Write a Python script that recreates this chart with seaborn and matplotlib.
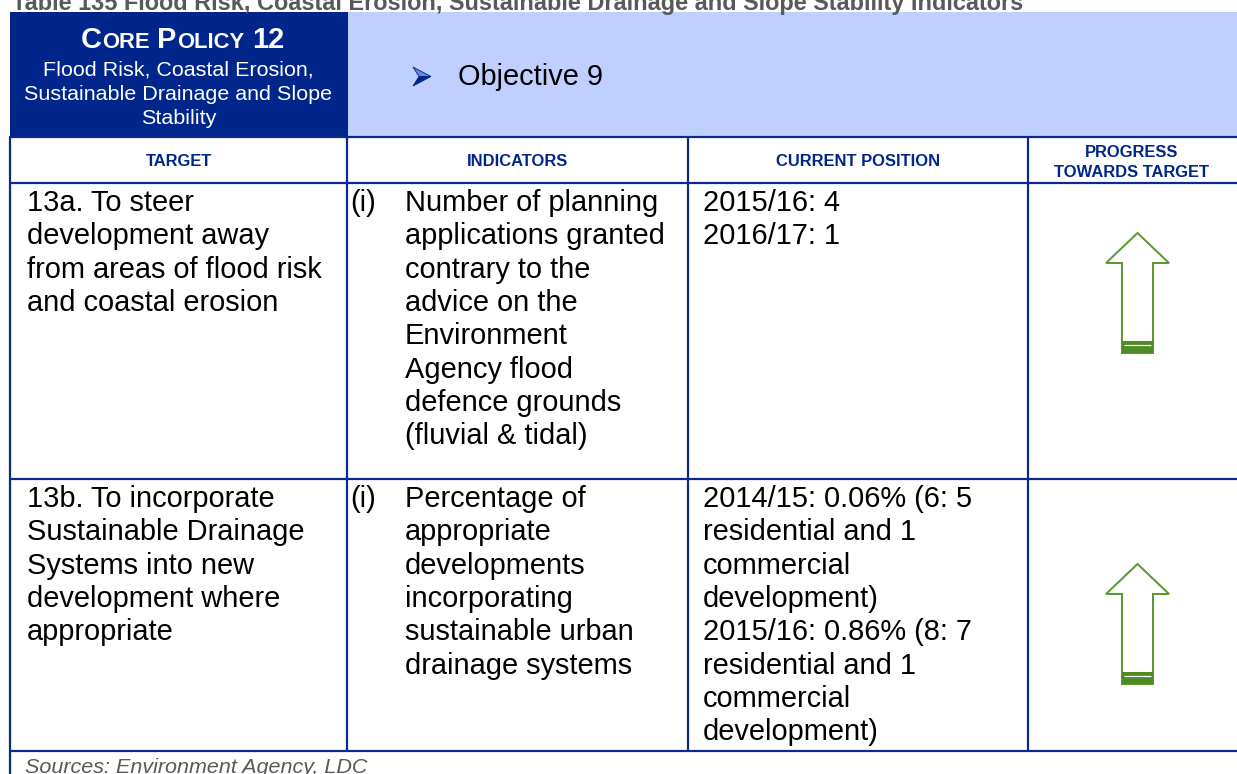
"""
plot.py
Core Policy 12 indicator table (flood risk / drainage), redrawn with matplotlib + seaborn.
"""

import matplotlib
matplotlib.use("Agg")
import matplotlib.pyplot as plt
from matplotlib.patches import Polygon, Rectangle
import seaborn as sns

# ══════════════════════════════════════════
# DATA
# ══════════════════════════════════════════
TITLE = "Table 135 Flood Risk, Coastal Erosion, Sustainable Drainage and Slope Stability Indicators"
POLICY_PARTS = [("C", True), ("ORE", False), ("P", True), ("OLICY", False), ("12", True)]
POLICY_SUB = ["Flood Risk, Coastal Erosion,", "Sustainable Drainage and Slope", "Stability"]
OBJECTIVE = "Objective 9"
COLUMNS = [["TARGET"], ["INDICATORS"], ["CURRENT POSITION"], ["PROGRESS", "TOWARDS TARGET"]]

TARGETS = [
    ["13a. To steer", "development away", "from areas of flood risk", "and coastal erosion"],
    ["13b. To incorporate", "Sustainable Drainage", "Systems into new",
     "development where", "appropriate"],
]
INDICATOR_NUM = ["(i)", "(i)"]
INDICATORS = [
    ["Number of planning", "applications granted", "contrary to the", "advice on the",
     "Environment", "Agency flood", "defence grounds", "(fluvial & tidal)"],
    ["Percentage of", "appropriate", "developments", "incorporating",
     "sustainable urban", "drainage systems"],
]
POSITIONS = [
    ["2015/16: 4", "2016/17: 1"],
    ["2014/15: 0.06% (6: 5", "residential and 1", "commercial", "development)",
     "2015/16: 0.86% (8: 7", "residential and 1", "commercial", "development)"],
]
PROGRESS = ["up", "up"]
SOURCES = "Sources: Environment Agency, LDC"

# ══════════════════════════════════════════
# LAYOUT / STYLE
# ══════════════════════════════════════════
W, H, DPI = 1237, 774, 100
COL_X = [10, 347, 688, 1028]
HEAD_TOP, HEAD_BOT, COLHEAD_BOT = 12, 137, 183
ROW_BOT = [479, 751]
ROW_TOP = [COLHEAD_BOT, ROW_BOT[0]]
LINE_STEP = 33.3
FIRST_BASE = 28          # baseline of first text line below row top
ARROW_TIP = [50, 85]     # arrow tip offset below row top

NAVY = "#00268C"
LINE = "#0B2A8E"
LIGHT = "#BFCFFF"
GREEN = "#4C8C22"
GREY = "#595959"
FONT = ["Liberation Sans", "DejaVu Sans"]


def pt(px):
    return px * 72 / DPI


sns.set_theme(style="white")
plt.rcParams["font.family"] = FONT

fig = plt.figure(figsize=(W / DPI, H / DPI), dpi=DPI)
ax = fig.add_axes([0, 0, 1, 1])
ax.set_xlim(0, W)
ax.set_ylim(H, 0)
ax.axis("off")
renderer = fig.canvas.get_renderer()

# ── title (cut off at top, as in the source page) ──
ax.text(12, 10, TITLE, fontsize=pt(23.5), fontweight="bold", color=GREY, va="baseline")

# ── header band ──
ax.add_patch(Rectangle((COL_X[0], HEAD_TOP), COL_X[1] + 1 - COL_X[0], HEAD_BOT - HEAD_TOP,
                       facecolor=NAVY, edgecolor="none"))
ax.add_patch(Rectangle((COL_X[1] + 1, HEAD_TOP), W - COL_X[1], HEAD_BOT - HEAD_TOP,
                       facecolor=LIGHT, edgecolor="none"))

# small caps "CORE POLICY 12"
big, small = pt(29), pt(22)
pieces, widths = [], []
for s, is_big in POLICY_PARTS:
    t = ax.text(0, 48, s, fontsize=big if is_big else small, fontweight="bold",
                color="white", va="baseline", ha="left")
    pieces.append(t)
    widths.append(t.get_window_extent(renderer).width)
gap = 0.278 * 29
total = sum(widths) + 2 * gap
cx = (COL_X[0] + COL_X[1]) / 2 + 4
x = cx - total / 2
for i, (t, w) in enumerate(zip(pieces, widths)):
    t.set_x(x)
    x += w
    if i in (1, 3):
        x += gap

for i, line in enumerate(POLICY_SUB):
    ax.text(cx - 4, 76 + i * 24, line, fontsize=pt(21.5), color="white",
            ha="center", va="baseline")

# bullet arrowhead + objective
ax.add_patch(Polygon([(413, 67), (431, 76.5), (419, 76.5)], closed=True,
                     facecolor="#6F86D6", edgecolor=NAVY, lw=0.6))
ax.add_patch(Polygon([(413, 86), (431, 76.5), (419, 76.5)], closed=True,
                     facecolor=NAVY, edgecolor=NAVY, lw=0.6))
ax.text(458, 85, OBJECTIVE, fontsize=pt(29), color="black", va="baseline")

# ── column headers ──
col_centres = [(COL_X[0] + COL_X[1]) / 2, (COL_X[1] + COL_X[2]) / 2,
               (COL_X[2] + COL_X[3]) / 2, 1132]
for c, lab in zip(col_centres, COLUMNS):
    if len(lab) == 1:
        ax.text(c, 166, lab[0], fontsize=pt(16.5), fontweight="bold", color=NAVY,
                ha="center", va="baseline")
    else:
        for j, l in enumerate(lab):
            ax.text(c, 157 + j * 20, l, fontsize=pt(16.5), fontweight="bold", color=NAVY,
                    ha="center", va="baseline")

# ── body rows ──
body = dict(fontsize=pt(29), color="black", va="baseline")
for r in range(len(TARGETS)):
    y0 = ROW_TOP[r] + FIRST_BASE
    for j, l in enumerate(TARGETS[r]):
        ax.text(27, y0 + j * LINE_STEP, l, **body)
    ax.text(350, y0, INDICATOR_NUM[r], **body)
    for j, l in enumerate(INDICATORS[r]):
        ax.text(405, y0 + j * LINE_STEP, l, **body)
    for j, l in enumerate(POSITIONS[r]):
        ax.text(703, y0 + j * LINE_STEP, l, **body)

    # progress arrow
    if PROGRESS[r] == "up":
        ac, tip = 1137.5, ROW_TOP[r] + ARROW_TIP[r]
        hw, sw, hh, L = 31.5, 15.5, 30, 120
        ax.add_patch(Polygon([(ac, tip), (ac + hw, tip + hh), (ac + sw, tip + hh),
                              (ac + sw, tip + L), (ac - sw, tip + L), (ac - sw, tip + hh),
                              (ac - hw, tip + hh)], closed=True,
                             facecolor="white", edgecolor="#5A9A30", lw=pt(2.0),
                             joinstyle="miter"))
        ax.add_patch(Rectangle((ac - sw, tip + L - 12), 2 * sw, 12,
                               facecolor=GREEN, edgecolor="none"))
        ax.plot([ac - sw + 2, ac + sw - 2], [tip + L - 8, tip + L - 8],
                color="white", lw=pt(1.2), solid_capstyle="butt")

# ── grid lines ──
lw = pt(2.2)
for y in [HEAD_BOT, COLHEAD_BOT] + ROW_BOT:
    ax.plot([COL_X[0] - 1, W], [y, y], color=LINE, lw=lw, solid_capstyle="butt")
for x in COL_X[1:]:
    ax.plot([x, x], [HEAD_BOT, ROW_BOT[-1]], color=LINE, lw=lw, solid_capstyle="butt")
ax.plot([COL_X[0], COL_X[0]], [HEAD_BOT, H], color=LINE, lw=lw, solid_capstyle="butt")

# ── sources (cut off at bottom) ──
ax.text(25, 773, SOURCES, fontsize=pt(21.5), style="italic", color=GREY, va="baseline")

fig.savefig("out.png", dpi=DPI)
plt.close(fig)
